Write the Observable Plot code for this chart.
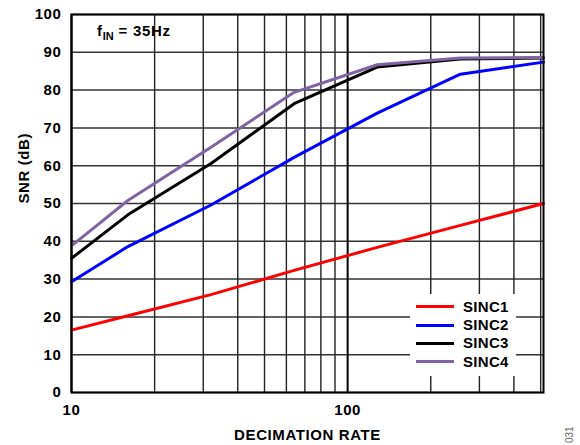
<!DOCTYPE html>
<html><head><meta charset="utf-8">
<script src="https://cdn.jsdelivr.net/npm/d3@7"></script>
<script src="https://cdn.jsdelivr.net/npm/@observablehq/plot@0.6"></script>
<style>
body{margin:0;background:#fff;font-family:"Liberation Sans",Arial,sans-serif;}
#wrap{position:relative;width:580px;height:445px;overflow:hidden;background:#fff;}
#wrap svg{position:absolute;left:0;top:0;}
#legend{position:absolute;left:410px;top:294px;width:106px;height:82px;background:#fff;}
.row{position:absolute;left:0;width:106px;height:18px;}
.sw{position:absolute;left:6px;top:7.5px;width:38px;height:3px;}
.lb{position:absolute;left:53px;top:0;font-size:15px;font-weight:bold;line-height:18px;color:#000;letter-spacing:0.3px;}
#note{position:absolute;left:97px;top:22px;font-size:15px;font-weight:bold;white-space:nowrap;letter-spacing:0.7px;}
#note sub{font-size:11px;vertical-align:-4px;letter-spacing:0;}
#code{position:absolute;left:564px;top:443px;font-size:10px;line-height:12px;color:#666;transform:rotate(-90deg);transform-origin:left top;white-space:nowrap;}
</style></head>
<body>
<div id="wrap"></div>
<script>
const rates = [10, 16, 32, 64, 128, 256, 512];
const sinc1 = [16.5, 20.3, 25.9, 32.3, 38.4, 44.2, 50.0];
const sinc2 = [29.3, 38.6, 49.6, 62.2, 73.9, 84.2, 87.4];
const sinc3 = [35.5, 47.0, 60.6, 76.4, 86.1, 88.2, 88.5];
const sinc4 = [38.8, 50.8, 64.9, 79.4, 86.7, 88.5, 88.6];
const seriesNames = ["SINC1", "SINC2", "SINC3", "SINC4"];
const seriesColors = ["#ff0000", "#0000ff", "#000000", "#8064a2"];
const xTicks = [10, 100];
const yTicks = [0, 10, 20, 30, 40, 50, 60, 70, 80, 90, 100];
const xGrid = [10, 20, 30, 40, 50, 60, 70, 80, 90, 100, 200, 300, 400, 500];
const xDomain = [10, 512];
const yDomain = [0, 100];

const allSeries = [sinc1, sinc2, sinc3, sinc4];
const table = [];
allSeries.forEach((vals, i) => vals.forEach((v, j) => table.push({rate: rates[j], snr: v, series: seriesNames[i]})));

const font = '"Liberation Sans", Arial, sans-serif';
const chart = Plot.plot({
  width: 580, height: 445,
  marginLeft: 71, marginRight: 37, marginTop: 14, marginBottom: 53,
  style: {fontFamily: font, fontSize: "15px", fontWeight: "bold", color: "#000", background: "transparent", letterSpacing: "0.6px"},
  x: {type: "log", domain: xDomain},
  y: {domain: yDomain},
  color: {domain: seriesNames, range: seriesColors},
  marks: [
    Plot.ruleY(yTicks, {stroke: "#333", strokeWidth: 1.5, strokeOpacity: 1}),
    Plot.ruleX(xGrid, {stroke: d => (Math.log10(d) % 1 === 0 ? "#000" : "#222"), strokeWidth: d => (Math.log10(d) % 1 === 0 ? 2 : 1.4), strokeOpacity: 1}),
    Plot.line(table, {x: "rate", y: "snr", z: "series", stroke: "series", strokeWidth: 3, strokeLinejoin: "round"}),
    Plot.frame({stroke: "#000", strokeWidth: 2}),
    Plot.axisX({ticks: xTicks, tickSize: 0, tickPadding: 12, tickFormat: d => String(d), label: null, fontSize: 15, fontWeight: "bold"}),
    Plot.axisY({ticks: yTicks, tickSize: 0, tickPadding: 10, tickFormat: d => String(d), label: null, fontSize: 15, fontWeight: "bold"}),
    Plot.text(["DECIMATION RATE"], {text: d => d, frameAnchor: "bottom", dy: 47, fontSize: 15, fontWeight: "bold", fill: "#000"}),
    Plot.text(["SNR (dB)"], {text: d => d, frameAnchor: "left", dx: -47, rotate: -90, fontSize: 15, fontWeight: "bold", fill: "#000"})
  ]
});
const wrap = document.getElementById("wrap");
wrap.appendChild(chart);

const legend = document.createElement("div");
legend.id = "legend";
seriesNames.forEach((name, i) => {
  const row = document.createElement("div");
  row.className = "row";
  row.style.top = (3.7 + i * 18.3) + "px";
  row.innerHTML = `<div class="sw" style="background:${seriesColors[i]}"></div><div class="lb">${name}</div>`;
  legend.appendChild(row);
});
wrap.appendChild(legend);

const note = document.createElement("div");
note.id = "note";
note.innerHTML = "f<sub>IN</sub> = 35Hz";
wrap.appendChild(note);

const code = document.createElement("div");
code.id = "code";
code.textContent = "031";
wrap.appendChild(code);
</script>
</body></html>
